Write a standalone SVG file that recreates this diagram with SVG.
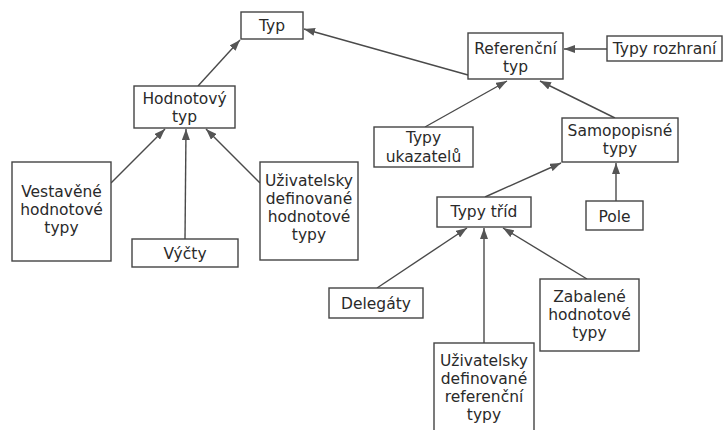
<svg xmlns="http://www.w3.org/2000/svg" width="723" height="430" viewBox="0 0 723 430">
<defs>
<marker id="arr" markerUnits="userSpaceOnUse" markerWidth="12" markerHeight="8" refX="11" refY="4" orient="auto">
<path d="M0,0 L11,4 L0,8 Z" fill="#555"/>
</marker>
<style>
.box{fill:#fff;stroke:#444;stroke-width:1.4}
.t{font-family:"DejaVu Sans","Open Sans",sans-serif;font-size:15.5px;fill:#2a2a2a;text-anchor:middle}
.c{stroke:#4a4a4a;stroke-width:1.4;fill:none;marker-end:url(#arr)}
</style>
</defs>
<rect width="723" height="430" fill="#fff"/>
<g id="connectors">
<line class="c" x1="198" y1="86" x2="240" y2="40"/>
<line class="c" x1="468" y1="75" x2="304" y2="29"/>
<line class="c" x1="607" y1="49" x2="564" y2="49"/>
<line class="c" x1="425" y1="127" x2="507" y2="81"/>
<line class="c" x1="615" y1="118" x2="540" y2="81"/>
<line class="c" x1="485" y1="197" x2="561" y2="163"/>
<line class="c" x1="616" y1="201" x2="616" y2="163"/>
<line class="c" x1="377" y1="288" x2="467" y2="228"/>
<line class="c" x1="484" y1="343" x2="484" y2="228"/>
<line class="c" x1="587" y1="279" x2="503" y2="228"/>
<line class="c" x1="111" y1="183" x2="165" y2="129"/>
<line class="c" x1="185" y1="239" x2="186" y2="129"/>
<line class="c" x1="260" y1="183" x2="206" y2="129"/>
</g>
<g id="typ"><rect class="box" x="241" y="12" width="62" height="27"/><text class="t" x="272" y="31">Typ</text></g>
<g id="hodnotovy"><rect class="box" x="134" y="86" width="101" height="42"/><text class="t" x="184.5" y="103.5">Hodnotový</text><text class="t" x="184.5" y="121.5">typ</text></g>
<g id="referencni"><rect class="box" x="468" y="33" width="95" height="46"/><text class="t" x="515.5" y="53.5">Referenční</text><text class="t" x="515.5" y="71.5">typ</text></g>
<g id="rozhrani"><rect class="box" x="607" y="36" width="115" height="25"/><text class="t" x="664.5" y="54">Typy rozhraní</text></g>
<g id="ukazatele"><rect class="box" x="374" y="127" width="99" height="40"/><text class="t" x="423.5" y="143">Typy</text><text class="t" x="423.5" y="162">ukazatelů</text></g>
<g id="samopopisne"><rect class="box" x="562" y="118" width="116" height="44"/><text class="t" x="620" y="135.5">Samopopisné</text><text class="t" x="620" y="153.5">typy</text></g>
<g id="tridy"><rect class="box" x="437" y="197" width="94" height="30"/><text class="t" x="484" y="217">Typy tříd</text></g>
<g id="pole"><rect class="box" x="586" y="201" width="57" height="29"/><text class="t" x="614.5" y="222">Pole</text></g>
<g id="delegaty"><rect class="box" x="329" y="288" width="94" height="30"/><text class="t" x="376" y="309">Delegáty</text></g>
<g id="zabalene"><rect class="box" x="540" y="279" width="99" height="72"/><text class="t" x="589.5" y="302">Zabalené</text><text class="t" x="589.5" y="320">hodnotové</text><text class="t" x="589.5" y="338">typy</text></g>
<g id="uziv-ref"><rect class="box" x="434" y="343" width="100" height="95"/><text class="t" x="484" y="366">Uživatelsky</text><text class="t" x="484" y="384">definované</text><text class="t" x="484" y="402">referenční</text><text class="t" x="484" y="420">typy</text></g>
<g id="vestavene"><rect class="box" x="12" y="162" width="99" height="99"/><text class="t" x="61.5" y="197">Vestavěné</text><text class="t" x="61.5" y="215">hodnotové</text><text class="t" x="61.5" y="233">typy</text></g>
<g id="vycty"><rect class="box" x="132" y="239" width="106" height="28"/><text class="t" x="185" y="259">Výčty</text></g>
<g id="uziv-hod"><rect class="box" x="260" y="162" width="98" height="98"/><text class="t" x="309" y="185.5">Uživatelsky</text><text class="t" x="309" y="203.5">definované</text><text class="t" x="309" y="221.5">hodnotové</text><text class="t" x="309" y="239.5">typy</text></g>
</svg>
